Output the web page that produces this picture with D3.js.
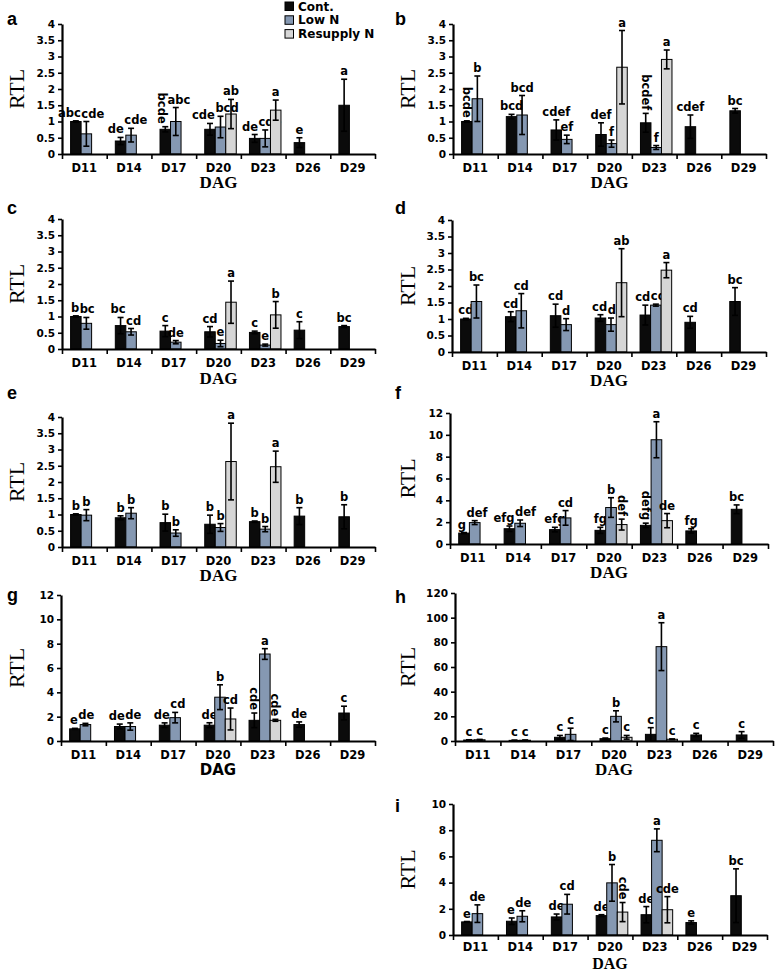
<!DOCTYPE html>
<html><head><meta charset="utf-8">
<script src="https://cdn.jsdelivr.net/npm/d3@7"></script>
<style>body{margin:0;background:#fff}</style>
</head><body><svg id="chart" width="778" height="973"></svg>
<script>
const categories = ["D11","D14","D17","D20","D23","D26","D29"];
const seriesNames = ["Cont.","Low N","Resupply N"];
const seriesColors = ["#0b0b0b","#8598b2","#d6d6d6"];

const ticks4 = [0,0.5,1,1.5,2,2.5,3,3.5,4];
const ticks12 = [0,2,4,6,8,10,12];
const ticks120 = [0,20,40,60,80,100,120];
const ticks10 = [0,2,4,6,8,10];

// panel a
const aCont = [1.0,0.40,0.76,0.76,0.48,0.35,1.50];
const aContErr = [0.02,0.11,0.08,0.18,0.12,0.15,0.80];
const aContLbl = ["abc","de","bcde","cde","de","e","a"];
const aLow = [0.62,0.58,1.00,0.83,0.48,null,null];
const aLowErr = [0.38,0.21,0.43,0.33,0.26,null,null];
const aLowLbl = ["cde","cde","abc","bcd","cde",null,null];
const aRes = [null,null,null,1.23,1.35,null,null];
const aResErr = [null,null,null,0.45,0.31,null,null];
const aResLbl = [null,null,null,"ab","a",null,null];

// panel b
const bCont = [1.0,1.15,0.74,0.60,0.96,0.84,1.33];
const bContErr = [0.02,0.07,0.31,0.36,0.29,0.36,0.07];
const bContLbl = ["bcde","bcd","cdef","def","bcdef","cdef","bc"];
const bLow = [1.70,1.20,0.45,0.32,0.20,null,null];
const bLowErr = [0.70,0.60,0.13,0.11,0.06,null,null];
const bLowLbl = ["b","bcd","ef","f","f",null,null];
const bRes = [null,null,null,2.67,2.91,null,null];
const bResErr = [null,null,null,1.13,0.29,null,null];
const bResLbl = [null,null,null,"a","a",null,null];

// panel c
const cCont = [1.0,0.72,0.55,0.53,0.51,0.58,0.69];
const cContErr = [0.02,0.25,0.17,0.16,0.04,0.26,0.03];
const cContLbl = ["b","bc","c","cd","c","c","bc"];
const cLow = [0.79,0.53,0.21,0.17,0.12,null,null];
const cLowErr = [0.18,0.10,0.05,0.10,0.03,null,null];
const cLowLbl = ["bc","cd","de","e","e",null,null];
const cRes = [null,null,null,1.44,1.05,null,null];
const cResErr = [null,null,null,0.65,0.41,null,null];
const cResLbl = [null,null,null,"a","b",null,null];

// panel d
const dCont = [1.0,1.07,1.10,1.03,1.12,0.90,1.53];
const dContErr = [0.02,0.15,0.35,0.10,0.30,0.18,0.42];
const dContLbl = ["cd","cd","cd","cd","cd","cd","bc"];
const dLow = [1.53,1.25,0.83,0.83,1.42,null,null];
const dLowErr = [0.50,0.52,0.18,0.20,0.03,null,null];
const dLowLbl = ["bc","cd","d","d","cd",null,null];
const dRes = [null,null,null,2.10,2.48,null,null];
const dResErr = [null,null,null,1.03,0.23,null,null];
const dResLbl = [null,null,null,"ab","a",null,null];

// panel e
const eCont = [1.0,0.90,0.75,0.70,0.78,0.95,0.93];
const eContErr = [0.02,0.06,0.26,0.28,0.02,0.26,0.37];
const eContLbl = ["b","b","b","b","b","b","b"];
const eLow = [0.98,1.04,0.43,0.60,0.55,null,null];
const eLowErr = [0.17,0.17,0.10,0.12,0.08,null,null];
const eLowLbl = ["b","b","b","b","b",null,null];
const eRes = [null,null,null,2.63,2.47,null,null];
const eResErr = [null,null,null,1.18,0.48,null,null];
const eResLbl = [null,null,null,"a","a",null,null];

// panel f
const fCont = [1.0,1.40,1.32,1.25,1.71,1.20,3.18];
const fContErr = [0.05,0.25,0.21,0.28,0.20,0.20,0.40];
const fContLbl = ["g","efg","efg","fg","defg","fg","bc"];
const fLow = [1.96,1.90,2.39,3.34,9.55,null,null];
const fLowErr = [0.18,0.30,0.67,0.90,1.65,null,null];
const fLowLbl = ["def","def","cd","b","a",null,null];
const fRes = [null,null,null,1.78,2.14,null,null];
const fResErr = [null,null,null,0.50,0.65,null,null];
const fResLbl = [null,null,null,"def","de",null,null];

// panel g
const gCont = [1.0,1.19,1.30,1.30,1.70,1.35,2.30];
const gContErr = [0.04,0.20,0.19,0.20,0.60,0.22,0.56];
const gContLbl = ["e","de","de","de","cde","de","c"];
const gLow = [1.35,1.19,1.92,3.60,7.15,null,null];
const gLowErr = [0.10,0.30,0.43,1.02,0.44,null,null];
const gLowLbl = ["de","de","cd","b","a",null,null];
const gRes = [null,null,null,1.81,1.70,null,null];
const gResErr = [null,null,null,0.90,0.08,null,null];
const gResLbl = [null,null,null,"cd","cde",null,null];

// panel h
const hCont = [0.8,0.5,3.0,1.9,5.4,4.9,4.9];
const hContErr = [0.2,0.2,1.5,0.5,5.4,1.3,2.7];
const hContLbl = ["c","c","c","c","c","c","c"];
const hLow = [1.0,0.6,5.4,20.0,76.5,null,null];
const hLowErr = [0.3,0.2,5.0,4.5,19.4,null,null];
const hLowLbl = ["c","c","c","b","a",null,null];
const hRes = [null,null,null,3.0,1.4,null,null];
const hResErr = [null,null,null,1.5,0.3,null,null];
const hResLbl = [null,null,null,"c","c",null,null];

// panel i
const iCont = [1.0,1.05,1.38,1.48,1.55,0.95,3.00];
const iContErr = [0.03,0.25,0.22,0.07,0.62,0.13,2.05];
const iContLbl = ["e","e","de","de","de","e","bc"];
const iLow = [1.63,1.43,2.35,3.98,7.23,null,null];
const iLowErr = [0.67,0.42,0.75,1.40,0.87,null,null];
const iLowLbl = ["de","de","cd","b","a",null,null];
const iRes = [null,null,null,1.75,1.93,null,null];
const iResErr = [null,null,null,0.73,1.00,null,null];
const iResLbl = [null,null,null,"cde","cde",null,null];

// letters written vertically: panel:series:category
const verticalLabels = ["a:0:D17","b:0:D11","b:0:D23","f:2:D20","f:0:D23","g:0:D23","g:2:D23","i:2:D20"];

const panelData = {
  a:{series:[[aCont,aContErr,aContLbl],[aLow,aLowErr,aLowLbl],[aRes,aResErr,aResLbl]],ticks:ticks4},
  b:{series:[[bCont,bContErr,bContLbl],[bLow,bLowErr,bLowLbl],[bRes,bResErr,bResLbl]],ticks:ticks4},
  c:{series:[[cCont,cContErr,cContLbl],[cLow,cLowErr,cLowLbl],[cRes,cResErr,cResLbl]],ticks:ticks4},
  d:{series:[[dCont,dContErr,dContLbl],[dLow,dLowErr,dLowLbl],[dRes,dResErr,dResLbl]],ticks:ticks4},
  e:{series:[[eCont,eContErr,eContLbl],[eLow,eLowErr,eLowLbl],[eRes,eResErr,eResLbl]],ticks:ticks4},
  f:{series:[[fCont,fContErr,fContLbl],[fLow,fLowErr,fLowLbl],[fRes,fResErr,fResLbl]],ticks:ticks12},
  g:{series:[[gCont,gContErr,gContLbl],[gLow,gLowErr,gLowLbl],[gRes,gResErr,gResLbl]],ticks:ticks12},
  h:{series:[[hCont,hContErr,hContLbl],[hLow,hLowErr,hLowLbl],[hRes,hResErr,hResLbl]],ticks:ticks120},
  i:{series:[[iCont,iContErr,iContLbl],[iLow,iLowErr,iLowLbl],[iRes,iResErr,iResLbl]],ticks:ticks10}
};

// layout (pixels)
const layout = [
  {id:"a", x0:62,  x1:375, y0:154, y1:24,  lx:7,   ly:25,  rtlX:17,  dagDy:34, dagSans:false, pad:9.5, dagSize:17},
  {id:"b", x0:453, x1:766, y0:154, y1:24,  lx:395, ly:25,  rtlX:408, dagDy:34, dagSans:false, pad:9.5, dagSize:17},
  {id:"c", x0:62,  x1:375, y0:349, y1:219, lx:7,   ly:214, rtlX:17,  dagDy:35, dagSans:false, pad:9.5, dagSize:17},
  {id:"d", x0:452, x1:766, y0:352, y1:220, lx:395, ly:214, rtlX:408, dagDy:34, dagSans:false, pad:9.5, dagSize:17},
  {id:"e", x0:62,  x1:375, y0:547, y1:417, lx:7,   ly:399, rtlX:17,  dagDy:34, dagSans:false, pad:9.5, dagSize:17},
  {id:"f", x0:450, x1:768, y0:544, y1:413, lx:395, ly:399, rtlX:408, dagDy:34, dagSans:false, pad:9.5, dagSize:17},
  {id:"g", x0:61,  x1:375, y0:741, y1:595, lx:7,   ly:601, rtlX:17,  dagDy:34, dagSans:true,  pad:9.5, dagSize:15},
  {id:"h", x0:455, x1:773, y0:741, y1:593, lx:395, ly:603, rtlX:408, dagDy:34, dagSans:false, pad:9.5, dagSize:17},
  {id:"i", x0:453, x1:767, y0:935, y1:804, lx:395, ly:812, rtlX:408, dagDy:34, dagSans:false, pad:7.5, dagSize:16}
];

const svg = d3.select("#chart");
const SANS = "'DejaVu Sans', Verdana, sans-serif";
const SERIF = "'Liberation Serif', 'Times New Roman', serif";
const LBL_SIZE = 11.5;

layout.forEach(p => {
  const pd = panelData[p.id];
  const g = svg.append("g");
  const x = d3.scaleBand().domain(categories).range([p.x0, p.x1]).padding(0);
  const xi = d3.scaleLinear().domain([0, categories.length]).range([p.x0, p.x1]);
  const ymax = pd.ticks[pd.ticks.length-1];
  const y = d3.scaleLinear().domain([0, ymax]).range([p.y0, p.y1]);
  const bw = x.bandwidth();
  const barW = bw * 0.235;
  const sx = d3.scaleBand().domain([0,1,2]).range([0, barW*3]).padding(0);
  const groupOff = (bw - barW*3)/2 + 2;
  const labels = [];

  // bars + error bars + letters
  pd.series.forEach((s, si) => {
    const [vals, errs, lbls] = s;
    categories.forEach((cat, ci) => {
      const v = vals[ci];
      if (v == null) return;
      const bx = x(cat) + groupOff + sx(si);
      g.append("rect")
        .attr("x", bx).attr("y", y(v))
        .attr("width", barW).attr("height", y(0) - y(v))
        .attr("fill", seriesColors[si]).attr("stroke", "#000").attr("stroke-width", 1);
      const e = errs[ci] || 0;
      const cx = bx + barW/2;
      const top = v + e;
      if (e > 0) {
        const lo = Math.max(0, v - e);
        g.append("line").attr("x1", cx).attr("x2", cx).attr("y1", y(lo)).attr("y2", y(top))
          .attr("stroke", "#000").attr("stroke-width", 1.6);
        [top, lo].forEach(t => {
          if (t <= 0) return;
          g.append("line").attr("x1", cx-3).attr("x2", cx+3).attr("y1", y(t)).attr("y2", y(t))
            .attr("stroke", "#000").attr("stroke-width", 1.6);
        });
      }
      const lbl = lbls[ci];
      if (lbl) {
        const key = p.id + ":" + si + ":" + cat;
        const vertical = verticalLabels.includes(key);
        const t = g.append("text")
          .style("font-family", SANS).style("font-weight", "bold").style("font-size", LBL_SIZE + "px")
          .text(lbl);
        const len = t.node().getComputedTextLength();
        labels.push({t, vertical, cx, yb: y(top) - 3, len, dx: 0});
      }
    });
  });

  // resolve horizontal collisions between neighbouring letters
  const box = L => L.vertical
    ? {l: L.cx + L.dx - 5, r: L.cx + L.dx + 5, t: L.yb - L.len, b: L.yb}
    : {l: L.cx + L.dx - L.len/2, r: L.cx + L.dx + L.len/2, t: L.yb - 11, b: L.yb + 1};
  for (let iter = 0; iter < 40; iter++) {
    let moved = false;
    labels.sort((A, B) => (A.cx + A.dx) - (B.cx + B.dx));
    for (let i = 0; i < labels.length; i++) {
      for (let j = i + 1; j < labels.length; j++) {
        const A = box(labels[i]), B = box(labels[j]);
        if (A.r <= B.l || B.r <= A.l) continue;
        if (A.b <= B.t || B.b <= A.t) continue;
        const ov = A.r - B.l + 0.5;
        if (ov > 0) {
          labels[i].dx -= ov/2; labels[j].dx += ov/2; moved = true;
        }
      }
    }
    if (!moved) break;
  }
  labels.forEach(L => {
    if (L.vertical) {
      L.t.attr("transform", `translate(${L.cx + L.dx},${L.yb}) rotate(90)`)
        .attr("text-anchor", "end").attr("dy", "0.35em");
    } else {
      L.t.attr("x", L.cx + L.dx).attr("y", L.yb - 1).attr("text-anchor", "middle");
    }
  });

  // y axis
  const yAxis = d3.axisLeft(y).tickValues(pd.ticks).tickSize(4).tickSizeOuter(0).tickPadding(3)
    .tickFormat(d => String(d));
  const ya = g.append("g").attr("transform", `translate(${p.x0},0)`).call(yAxis);
  ya.select(".domain").attr("stroke", "#000").attr("stroke-width", 2.2);
  ya.selectAll(".tick line").attr("stroke", "#000").attr("stroke-width", 1.6);
  ya.selectAll(".tick text").style("font-family", SANS).style("font-weight", "bold")
    .style("font-size", "10.5px").attr("fill", "#000");

  // x axis: labels
  const xAxis = d3.axisBottom(x).tickSize(0).tickSizeOuter(0).tickPadding(p.pad);
  const xa = g.append("g").attr("transform", `translate(0,${p.y0})`).call(xAxis);
  xa.select(".domain").attr("stroke", "#000").attr("stroke-width", 2.2);
  xa.selectAll(".tick text").style("font-family", SANS).style("font-weight", "bold")
    .style("font-size", "11.5px").attr("fill", "#000");
  // x axis: boundary tick marks
  const xb = d3.axisBottom(xi).tickValues(d3.range(0, categories.length + 1)).tickSize(5)
    .tickSizeOuter(0).tickFormat("");
  const xbg = g.append("g").attr("transform", `translate(0,${p.y0})`).call(xb);
  xbg.select(".domain").remove();
  xbg.selectAll(".tick line").attr("stroke", "#000").attr("stroke-width", 1.6);

  // axis titles
  g.append("text").attr("transform", `translate(${p.rtlX + 7},${(p.y0 + p.y1)/2}) rotate(-90)`)
    .attr("text-anchor", "middle")
    .style("font-family", SERIF).style("font-size", "22px").text("RTL");
  g.append("text").attr("x", (p.x0 + p.x1)/2).attr("y", p.y0 + p.dagDy)
    .attr("text-anchor", "middle")
    .style("font-family", p.dagSans ? SANS : SERIF).style("font-weight", "bold")
    .style("font-size", p.dagSize + "px").text("DAG");

  // panel letter
  g.append("text").attr("x", p.lx).attr("y", p.ly)
    .style("font-family", "'Liberation Sans', Arial, sans-serif").style("font-weight", "bold")
    .style("font-size", "18px").text(p.id);
});

// legend (in panel a)
const legend = svg.append("g").attr("transform", "translate(285,2)");
seriesNames.forEach((n, i) => {
  legend.append("rect").attr("x", 0).attr("y", i*13.8).attr("width", 8.5).attr("height", 8.5)
    .attr("fill", seriesColors[i]).attr("stroke", "#000").attr("stroke-width", 1);
  legend.append("text").attr("x", 13).attr("y", i*13.8 + 8.5)
    .style("font-family", SANS).style("font-weight", "bold").style("font-size", "12px").text(n);
});
</script>
</body></html>
